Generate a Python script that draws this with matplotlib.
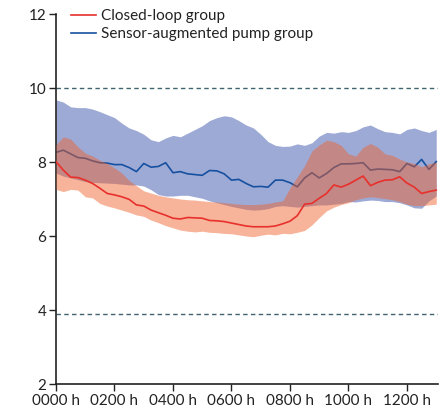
#!/usr/bin/env python3
"""
plot.py - overnight glucose, closed-loop vs sensor-augmented pump
"""
import numpy as np
import matplotlib
matplotlib.use('Agg')
import matplotlib.pyplot as plt

# 15 min steps from 0000 h to 1300 h
hours = np.arange(53) * 0.25

closed_mean = [8.01, 7.78, 7.59, 7.58, 7.51, 7.42, 7.29, 7.15, 7.11, 7.06,
               6.99, 6.84, 6.81, 6.70, 6.63, 6.56, 6.48, 6.46, 6.50, 6.49,
               6.48, 6.42, 6.41, 6.39, 6.35, 6.31, 6.27, 6.25, 6.25, 6.25,
               6.27, 6.33, 6.40, 6.55, 6.86, 6.88, 7.02, 7.15, 7.38, 7.32,
               7.40, 7.51, 7.62, 7.36, 7.45, 7.51, 7.52, 7.60, 7.43, 7.32,
               7.15, 7.20, 7.24]
closed_upper = [8.47, 8.68, 8.62, 8.41, 8.24, 8.16, 8.05, 7.96, 7.84, 7.70,
                7.50, 7.36, 7.22, 7.16, 7.10, 7.06, 7.03, 7.00, 6.98, 6.97,
                6.95, 6.93, 6.92, 6.90, 6.88, 6.86, 6.85, 6.85, 6.86, 6.88,
                6.92, 6.95, 7.30, 7.60, 7.90, 8.30, 8.46, 8.59, 8.55, 8.45,
                8.22, 8.16, 8.40, 8.50, 8.40, 8.22, 8.18, 8.08, 8.00, 7.96,
                7.87, 7.95, 8.00]
closed_lower = [7.26, 7.20, 7.26, 7.24, 7.06, 7.03, 6.88, 6.81, 6.76, 6.70,
                6.64, 6.57, 6.53, 6.43, 6.36, 6.28, 6.22, 6.16, 6.13, 6.11,
                6.13, 6.10, 6.09, 6.07, 6.06, 6.03, 6.00, 5.98, 6.02, 6.05,
                6.03, 6.07, 6.06, 6.10, 6.15, 6.30, 6.50, 6.68, 6.78, 6.85,
                6.90, 6.98, 7.03, 7.06, 7.04, 7.01, 6.98, 6.93, 6.86, 6.82,
                6.82, 6.84, 6.86]

sap_mean = [8.26, 8.32, 8.22, 8.12, 8.10, 8.03, 7.98, 7.97, 7.93, 7.93,
            7.85, 7.74, 7.96, 7.86, 7.88, 7.98, 7.71, 7.74, 7.68, 7.66,
            7.64, 7.77, 7.76, 7.68, 7.51, 7.53, 7.42, 7.33, 7.34, 7.32,
            7.51, 7.51, 7.44, 7.33, 7.57, 7.71, 7.57, 7.69, 7.85, 7.95,
            7.95, 7.96, 7.98, 7.78, 7.81, 7.80, 7.79, 7.74, 7.96, 7.87,
            8.07, 7.80, 8.01]
sap_upper = [9.68, 9.62, 9.49, 9.47, 9.47, 9.43, 9.36, 9.28, 9.20, 9.05,
             8.92, 8.85, 8.75, 8.60, 8.55, 8.65, 8.72, 8.68, 8.78, 8.88,
             8.98, 9.12, 9.20, 9.25, 9.22, 9.12, 9.00, 8.92, 8.75, 8.55,
             8.45, 8.42, 8.43, 8.49, 8.45, 8.52, 8.70, 8.80, 8.78, 8.82,
             8.80, 8.85, 8.95, 9.00, 8.90, 8.82, 8.80, 8.76, 8.88, 8.92,
             8.85, 8.80, 8.88]
sap_lower = [7.70, 7.62, 7.57, 7.52, 7.47, 7.45, 7.44, 7.43, 7.42, 7.40,
             7.38, 7.38, 7.35, 7.25, 7.12, 7.08, 7.08, 7.10, 7.10, 7.06,
             7.02, 6.95, 6.90, 6.85, 6.80, 6.76, 6.72, 6.70, 6.71, 6.74,
             6.80, 6.82, 6.80, 6.78, 6.80, 6.82, 6.84, 6.84, 6.86, 6.88,
             6.93, 6.92, 6.95, 6.97, 6.96, 6.93, 6.93, 6.90, 6.84, 6.76,
             6.75, 6.95, 7.08]

target_lines = [10.0, 3.9]
xtick_pos = [0, 2, 4, 6, 8, 10, 12]
xtick_labels = ['0000 h', '0200 h', '0400 h', '0600 h', '0800 h', '1000 h', '1200 h']
ytick_pos = [2, 4, 6, 8, 10, 12]

plt.rcParams['font.family'] = ['Lato', 'DejaVu Sans']

fig = plt.figure(figsize=(4.43, 4.12), dpi=100)
ax = fig.add_axes([56/443, 1-384/412, (438-56)/443, (384-14)/412])

# sensor-augmented pump band and line first, closed-loop band laid over them
ax.fill_between(hours, sap_lower, sap_upper, color='#9eaad6', lw=0, zorder=1)
ax.plot(hours, sap_mean, color='#1650a0', lw=1.2, zorder=2,
        label='Sensor-augmented pump group')
ax.fill_between(hours, closed_lower, closed_upper, color='#ee602a', alpha=0.47,
                lw=0, zorder=3)
ax.plot(hours, closed_mean, color='#e8302c', lw=1.2, zorder=4,
        label='Closed-loop group')

for y in target_lines:
    ax.axhline(y, color='#3f6470', lw=1.0, dashes=(3.2, 2.4), zorder=0)

ax.set_xlim(0, 13.06)
ax.set_ylim(2, 12)
ax.set_xticks(xtick_pos)
ax.set_xticklabels(xtick_labels)
ax.set_yticks(ytick_pos)
ax.tick_params(direction='out', length=5, width=1.0, color='#222222',
               labelsize=11, labelcolor='#222222', pad=2)
for side in ['top', 'right']:
    ax.spines[side].set_visible(False)
for side in ['left', 'bottom']:
    ax.spines[side].set_linewidth(1.2)
    ax.spines[side].set_color('#222222')

handles, labels = ax.get_legend_handles_labels()
leg = ax.legend(handles[::-1], labels[::-1], loc='upper left',
                bbox_to_anchor=(0.038, 1.013), frameon=False, fontsize=11,
                handlelength=1.65, handletextpad=0.35, labelspacing=0.28,
                borderpad=0, borderaxespad=0)
for t in leg.get_texts():
    t.set_color('#222222')

fig.savefig('out.png', dpi=100)
